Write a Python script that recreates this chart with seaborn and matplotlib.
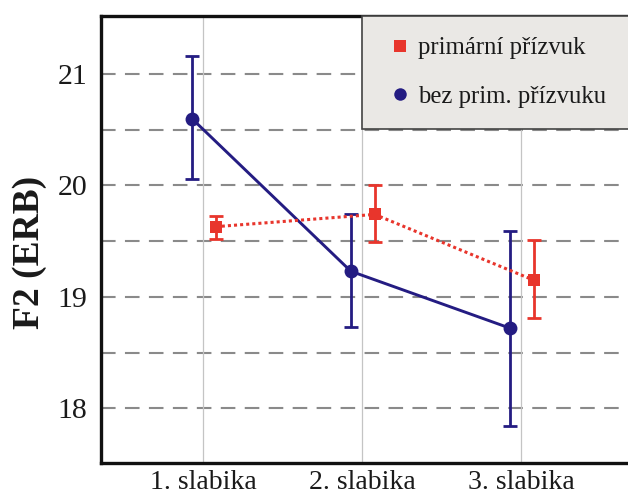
import matplotlib
matplotlib.use("Agg")
import matplotlib.pyplot as plt
from matplotlib.lines import Line2D
import seaborn as sns
import pandas as pd
import numpy as np

categories = ["1. slabika", "2. slabika", "3. slabika"]
prim_mean = [19.63, 19.74, 19.15]
prim_lo = [19.52, 19.49, 18.81]
prim_hi = [19.73, 20.00, 19.51]
bez_mean = [20.60, 19.23, 18.72]
bez_lo = [20.06, 18.73, 17.84]
bez_hi = [21.16, 19.74, 19.59]
series_labels = ["primární přízvuk", "bez prim. přízvuku"]
yticks = [18, 19, 20, 21]

sns.set_theme(style="white")
plt.rcParams['font.family'] = ['Liberation Serif', 'DejaVu Serif']

RED = "#e8352c"
BLUE = "#241c82"

fig = plt.figure(figsize=(6.28, 4.95), dpi=100)
W, H = 628, 495
ax_left, ax_right, ax_top, ax_bot = 101, 645, 16, 463
ax = fig.add_axes([ax_left / W, 1 - ax_bot / H, (ax_right - ax_left) / W, (ax_bot - ax_top) / H])

xpos = np.arange(len(categories))
off_bez, off_prim = -0.07, 0.08

df = pd.DataFrame({
    "x": np.concatenate([xpos + off_prim, xpos + off_bez]),
    "y": prim_mean + bez_mean,
    "series": [series_labels[0]] * 3 + [series_labels[1]] * 3,
})

# grid
for yv in np.arange(18.0, 21.01, 0.5):
    ax.axhline(yv, color="#8a8a8a", lw=1.5, ls=(0, (7, 4.5)), zorder=0)
for xv in xpos:
    ax.axvline(xv, color="#c4c4c4", lw=0.9, zorder=0)

# lines via seaborn
sns.lineplot(data=df[df.series == series_labels[1]], x="x", y="y", ax=ax,
             color=BLUE, lw=2.1, marker="o", markersize=10, markeredgewidth=0,
             zorder=3, legend=False)
sns.lineplot(data=df[df.series == series_labels[0]], x="x", y="y", ax=ax,
             color=RED, lw=2.2, ls=(0, (1, 1)), marker="s", markersize=9,
             markeredgewidth=0, zorder=4, legend=False)

# error bars
bm = np.array(bez_mean)
ax.errorbar(xpos + off_bez, bm, yerr=[bm - np.array(bez_lo), np.array(bez_hi) - bm],
            fmt="none", ecolor=BLUE, elinewidth=2.0, capsize=5, capthick=2.0, zorder=3)
pm = np.array(prim_mean)
ax.errorbar(xpos + off_prim, pm, yerr=[pm - np.array(prim_lo), np.array(prim_hi) - pm],
            fmt="none", ecolor=RED, elinewidth=2.0, capsize=5, capthick=2.0, zorder=4)

px_per_cat = 159.0
x0 = 203
ax.set_xlim((ax_left - x0) / px_per_cat, (ax_right - x0) / px_per_cat)
ax.set_ylim(17.51, 21.52)
ax.set_xticks(xpos)
ax.set_xticklabels(categories, fontsize=20)
ax.set_yticks(yticks)
ax.set_yticklabels([str(t) for t in yticks], fontsize=21.5)
ax.tick_params(axis="both", length=0, colors="#1a1a1a")
ax.tick_params(axis="y", pad=10)
ax.tick_params(axis="x", pad=5)
ax.set_xlabel("")
ax.set_ylabel("F2 (ERB)", fontsize=27, fontweight="bold", color="#1a1a1a")
ax.yaxis.set_label_coords((47 - ax_left) / (ax_right - ax_left), (ax_bot - 252) / (ax_bot - ax_top))

for sp in ax.spines.values():
    sp.set_color("#111111")
    sp.set_linewidth(2.4)

handles = [
    Line2D([], [], ls="none", marker="s", markersize=9, color=RED, markeredgewidth=0),
    Line2D([], [], ls="none", marker="o", markersize=9, color=BLUE, markeredgewidth=0),
]
lx0 = (362 - ax_left) / (ax_right - ax_left)
leg = ax.legend(handles, series_labels, loc="upper left",
                bbox_to_anchor=(lx0, 0.5, 1.0 - lx0 + 0.01, 0.5), mode="expand",
                borderaxespad=0, fontsize=17.8, frameon=True, fancybox=False,
                labelspacing=1.05, borderpad=0.85, handlelength=1.4, handletextpad=0.0)
fr = leg.get_frame()
fr.set_facecolor("#eae8e5")
fr.set_edgecolor("#444444")
fr.set_linewidth(1.2)
fr.set_alpha(1)
for t in leg.get_texts():
    t.set_color("#1a1a1a")

fig.savefig("out.png", dpi=100)
